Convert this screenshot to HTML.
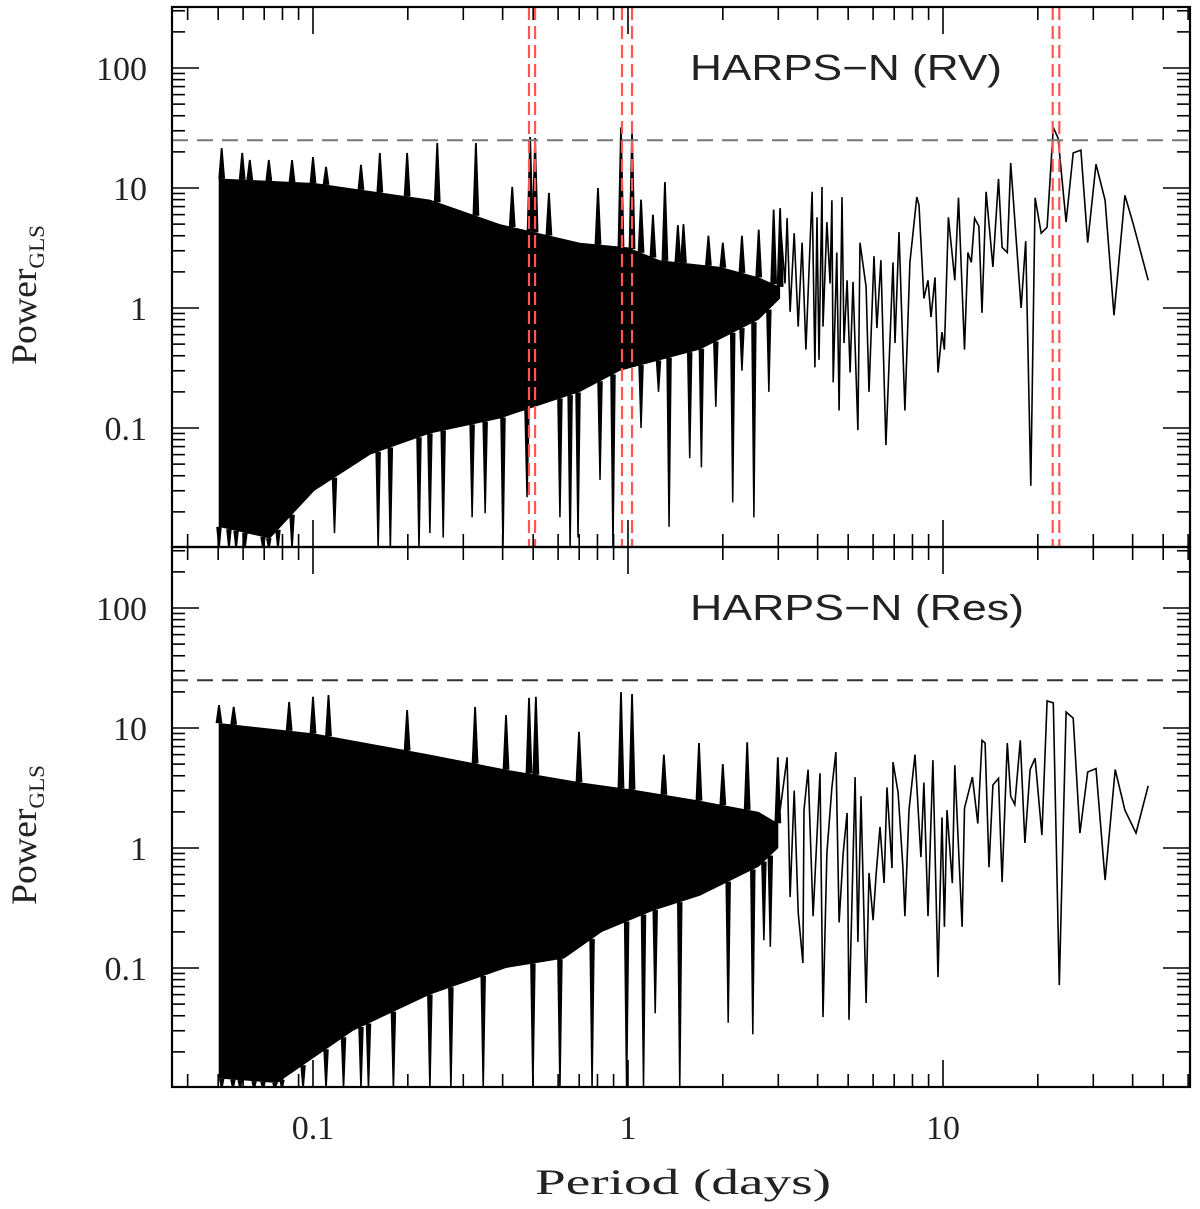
<!DOCTYPE html>
<html><head><meta charset="utf-8"><style>
html,body{margin:0;padding:0;background:#fff;}
svg{display:block;font-family:"Liberation Serif",serif;}
.lbl{font-family:"Liberation Sans",sans-serif;}
</style></head><body>
<svg id="chart" width="1200" height="1209" viewBox="0 0 1200 1209">
<defs>
<clipPath id="clipTop"><rect x="172" y="7" width="1018" height="540"/></clipPath>
<clipPath id="clipBot"><rect x="172" y="547" width="1018" height="540"/></clipPath>
</defs>
<g id="topPanel"></g>
<g id="botPanel"></g>
<text class="lbl" x="690" y="80" font-size="36" textLength="312" lengthAdjust="spacingAndGlyphs" fill="#222">HARPS−N (RV)</text>
<text class="lbl" x="690" y="620" font-size="36" textLength="334" lengthAdjust="spacingAndGlyphs" fill="#222">HARPS−N (Res)</text>
<text x="535" y="1194" font-size="36" textLength="296" lengthAdjust="spacingAndGlyphs" fill="#222">Period (days)</text>
<text transform="translate(36,365) rotate(-90)" font-size="36" textLength="140" lengthAdjust="spacingAndGlyphs" fill="#222">Power<tspan font-size="22" dy="8">GLS</tspan></text>
<text transform="translate(36,905) rotate(-90)" font-size="36" textLength="140" lengthAdjust="spacingAndGlyphs" fill="#222">Power<tspan font-size="22" dy="8">GLS</tspan></text>
</svg>
<script>
// ---------- data: top panel (RV) ----------
const rvCoreTopP = [0.0502,0.101,0.235,0.392,0.704,1.0,1.26,1.96,2.6,3.04];
const rvCoreTopV = [12,11,8,5,3.5,3.2,2.5,2.2,1.8,1.5];
const rvCoreBotP = [0.0502,0.073,0.101,0.152,0.235,0.392,0.704,0.943,1.69,2.6,3.04];
const rvCoreBotV = [0.015,0.012,0.03,0.06,0.09,0.12,0.2,0.3,0.45,0.8,1.2];
const rvPeakP = [0.0513,0.0596,0.063,0.0724,0.0858,0.1,0.11,0.142,0.163,0.199,0.248,0.329,0.429,0.489,0.507,0.561,0.803,0.95,1.03,1.1,1.2,1.31,1.44,1.5,1.8,2.0,2.3,2.6,2.9,3.04];
const rvPeakV = [21.5,19.6,17.1,17.1,17.1,18.1,15,15.6,19.6,19.6,23.7,23.7,10.2,26.6,26,9.1,10,32,29,8,6,11.2,4.9,5,4,3.5,4,4.5,6.6,6.8];
const rvDipP = [0.0503,0.0541,0.057,0.0608,0.0694,0.0724,0.0774,0.0858,0.161,0.176,0.217,0.401,0.655,0.896,0.117,0.235,0.259,0.32,0.352,0.478,0.608,0.694,0.815,1.1,1.25,1.35,1.57,1.71,1.9,2.15,2.3,2.51,2.8];
const rvDipV = [0.009,0.009,0.009,0.009,0.009,0.009,0.009,0.009,0.009,0.009,0.009,0.009,0.009,0.009,0.0133,0.0133,0.0122,0.018,0.0195,0.0265,0.018,0.0122,0.037,0.1,0.2,0.015,0.056,0.047,0.15,0.024,0.3,0.018,0.2];
const rvLineP = [3.04,3.15,3.2,3.27,3.37,3.47,3.57,3.67,3.84,3.92,3.98,4.04,4.13,4.16,4.28,4.38,4.44,4.48,4.6,4.68,4.78,4.85,4.96,5.07,5.18,5.37,5.45,5.7,5.82,6.04,6.17,6.35,6.59,6.94,7.04,7.25,7.57,7.85,8.26,8.39,8.7,8.96,9.16,9.43,9.64,9.93,10.1,10.4,10.9,11.2,11.7,12.0,12.3,12.6,13.0,13.3,13.7,14.4,15.0,15.4,16.0,16.4,17.7,18.3,19.0,19.6,20.5,21.4,22.4,23.2,24.6,25.9,27.4,28.8,30.6,32.7,34.9,37.8,40.1,44.8];
const rvLineV = [5.4,1.6,5.6,0.93,4.2,0.70,3.5,0.45,9.3,0.32,5.7,0.37,10.2,0.70,5.2,1.6,7.9,0.24,2.9,0.14,8.4,0.51,1.7,0.29,1.65,0.096,3.5,1.5,0.2,2.7,0.68,2.5,0.072,2.4,0.51,4.3,0.14,2.4,8.4,7.2,1.2,1.7,0.84,1.8,0.29,0.63,0.45,5.7,1.7,8.3,0.45,2.9,2.4,5.6,4.8,0.91,9.3,2.2,11.9,3.2,2.9,16.2,1.0,3.6,0.033,8.3,4.2,4.7,32,26,5.2,19.6,20.7,3.5,15.8,7.9,0.87,8.7,5.1,1.7];
// ---------- data: bottom panel (Residuals) ----------
const resCoreTopP = [0.0502,0.101,0.235,0.41,0.72,1.09,1.66,2.6,3.0];
const resCoreTopV = [11,9,6,4.5,3.5,3,2.5,2.0,1.6];
const resCoreBotP = [0.0502,0.077,0.134,0.235,0.41,0.627,0.827,1.2,1.69,2.6,3.0];
const resCoreBotV = [0.012,0.011,0.03,0.06,0.1,0.12,0.2,0.3,0.4,0.7,1.0];
const resPeakP = [0.0503,0.056,0.084,0.1,0.112,0.199,0.327,0.41,0.485,0.51,0.699,0.95,1.03,1.3,1.68,2.0,2.39,2.99];
const resPeakV = [15.5,15,16.5,18.2,18.8,14.1,15,12.8,17.8,18.2,9.3,19.9,19.2,6,7.5,5,7.6,5.7];
const resDipP = [0.0513,0.0557,0.0587,0.065,0.0694,0.0757,0.0797,0.093,0.11,0.125,0.142,0.15,0.18,0.235,0.274,0.347,0.499,0.608,0.769,0.99,1.12,1.46,1.22,2.08,2.49,2.7,2.83];
const resDipV = [0.009,0.009,0.009,0.009,0.009,0.009,0.009,0.009,0.009,0.009,0.009,0.009,0.009,0.009,0.009,0.009,0.009,0.009,0.009,0.009,0.009,0.009,0.042,0.035,0.028,0.17,0.15];
const resLineP = [3.04,3.2,3.27,3.37,3.47,3.59,3.62,3.73,3.87,4.07,4.16,4.28,4.44,4.57,4.68,4.82,4.96,5.03,5.26,5.37,5.49,5.7,5.82,6.0,6.13,6.31,6.5,6.64,6.89,6.94,7.2,7.46,7.57,7.8,8.15,8.51,8.7,8.96,9.29,9.64,9.93,10.1,10.3,10.7,10.9,11.5,11.7,12.4,12.9,13.3,13.6,14.0,14.4,15.0,15.4,16.0,16.4,16.9,17.6,18.2,18.9,19.6,20.6,21.4,22.4,23.4,24.6,25.9,27.2,28.8,30.6,32.7,35.2,37.8,41.0,44.8];
const resLineV = [2.07,5.7,0.39,3.0,0.29,0.11,2.07,4.5,0.27,4.2,0.039,0.91,3.2,6.3,0.24,0.91,1.96,0.037,3.9,0.165,2.7,0.051,0.62,0.25,0.6,1.5,0.51,3.2,0.68,5.2,2.9,0.69,0.27,2.07,6.0,0.84,3.5,0.27,5.4,0.084,1.8,0.22,2.07,0.51,4.9,0.22,2.15,3.9,1.6,7.9,7.5,0.69,3.35,3.8,0.52,7.5,2.7,2.3,7.9,1.1,4.5,5.6,1.28,16.8,16.2,0.072,13.6,12.1,1.33,4.3,4.6,0.54,4.5,2.07,1.33,3.3];
// ---------- annotations ----------
const threshold = 25;
const markerPeriods = [0.485,0.507,0.957,1.03,22.3,23.4];
const xTickVals = [0.1,1,10];
const xTickLabels = ["0.1","1","10"];
const yTickVals = [100,10,1,0.1];
const yTickLabels = ["100","10","1","0.1"];

const NS = "http://www.w3.org/2000/svg";
const X0 = 172, X1 = 1190;
function xs(p){ return 628 + 315*Math.log10(p); }
function ysFor(base){ return v => base - 120*Math.log10(v); }
function mk(tag, attrs, parent){ const e=document.createElementNS(NS,tag); for(const k in attrs) e.setAttribute(k,attrs[k]); parent.appendChild(e); return e; }
function interpLog(P,V,p){
  const lp=Math.log10(p);
  if(p<=P[0]) return V[0];
  if(p>=P[P.length-1]) return V[V.length-1];
  for(let i=0;i<P.length-1;i++){ const a=Math.log10(P[i]),b=Math.log10(P[i+1]);
    if(lp>=a&&lp<=b){ const t=(lp-a)/(b-a); return Math.pow(10,Math.log10(V[i])+t*(Math.log10(V[i+1])-Math.log10(V[i]))); } }
  return V[0];
}

function drawPanel(g, top, base, clipId, d){
  const ys = ysFor(base), bottom = top+540;
  const data = mk('g',{'clip-path':`url(#${clipId})`}, g);
  let pts=[];
  d.ctP.forEach((p,i)=>pts.push(xs(p).toFixed(1)+','+ys(d.ctV[i]).toFixed(1)));
  for(let i=d.cbP.length-1;i>=0;i--) pts.push(xs(d.cbP[i]).toFixed(1)+','+ys(d.cbV[i]).toFixed(1));
  const core = mk('polygon',{points:pts.join(' '),fill:'#000'},data);
  
  
  d.pkP.forEach((p,i)=>{
    const x=xs(p), ref=interpLog(d.ctP,d.ctV,p);
    const s=mk('path',{d:`M${x-2.5},${ys(ref)} L${x},${ys(d.pkV[i])} L${x+2.5},${ys(ref)}`,stroke:'#000','stroke-width':1.8,fill:'#000'},data);
    
    
  });
  d.dpP.forEach((p,i)=>{
    const x=xs(p), ref=interpLog(d.cbP,d.cbV,p);
    const s=mk('path',{d:`M${x-2},${ys(ref)} L${x},${Math.min(ys(d.dpV[i]),bottom+2)} L${x+2},${ys(ref)}`,stroke:'#000','stroke-width':1.5,fill:'#000'},data);
    
    
  });
  const ld = d.lnP.map((p,i)=>(i?'L':'M')+xs(p).toFixed(1)+','+ys(d.lnV[i]).toFixed(1)).join(' ');
  const ln = mk('path',{d:ld,stroke:'#000','stroke-width':1.6,fill:'none'},data);
  
  
  if(d.markers){
    d.markers.forEach(p=>{
      const m=mk('line',{x1:xs(p),x2:xs(p),y1:top,y2:bottom,stroke:'#ff5555','stroke-width':2.2,'stroke-dasharray':'13,6'},data);
      
      
    });
  }
  const th=mk('line',{x1:X0,x2:X1,y1:ys(threshold),y2:ys(threshold),stroke:d.thColor,'stroke-width':2,'stroke-dasharray':'16,9'},g);
  
  
  const fr=mk('rect',{x:X0,y:top,width:X1-X0,height:540,fill:'none',stroke:'#000','stroke-width':2.2},g);
  
  
  for(let e=-2;e<=3;e++){ for(let m=1;m<=9;m++){ const v=m*Math.pow(10,e); const y=ys(v); if(y<top||y>bottom) continue;
    const L = m===1?27:13;
    mk('line',{x1:X0,x2:X0+L,y1:y,y2:y,stroke:'#000','stroke-width':1.6},g);
    mk('line',{x1:X1-L,x2:X1,y1:y,y2:y,stroke:'#000','stroke-width':1.6},g);
  }}
  yTickVals.forEach((v,i)=>{ const t=mk('text',{x:147,y:ys(v)+12,'font-size':34,'text-anchor':'end',fill:'#222'},g); t.textContent=yTickLabels[i];
    
     });
  for(let e=-2;e<=1;e++){ for(let m=1;m<=9;m++){ const p=m*Math.pow(10,e); const x=xs(p); if(x<X0||x>X1) continue;
    const L = m===1?27:13;
    mk('line',{x1:x,x2:x,y1:bottom,y2:bottom-L,stroke:'#000','stroke-width':1.6},g);
    mk('line',{x1:x,x2:x,y1:top,y2:top+L,stroke:'#000','stroke-width':1.6},g);
  }}
}

drawPanel(document.getElementById('topPanel'),7,308,'clipTop',{
  ctP:rvCoreTopP,ctV:rvCoreTopV,cbP:rvCoreBotP,cbV:rvCoreBotV,pkP:rvPeakP,pkV:rvPeakV,dpP:rvDipP,dpV:rvDipV,lnP:rvLineP,lnV:rvLineV,markers:markerPeriods,thColor:'#777'});
drawPanel(document.getElementById('botPanel'),547,848,'clipBot',{
  ctP:resCoreTopP,ctV:resCoreTopV,cbP:resCoreBotP,cbV:resCoreBotV,pkP:resPeakP,pkV:resPeakV,dpP:resDipP,dpV:resDipV,lnP:resLineP,lnV:resLineV,markers:null,thColor:'#333'});

const svg=document.getElementById('chart');
xTickVals.forEach((p,i)=>{ const t=mk('text',{x:xs(p),y:1139,'font-size':34,'text-anchor':'middle',fill:'#222'},svg); t.textContent=xTickLabels[i];
  
   });
</script>
</body></html>
